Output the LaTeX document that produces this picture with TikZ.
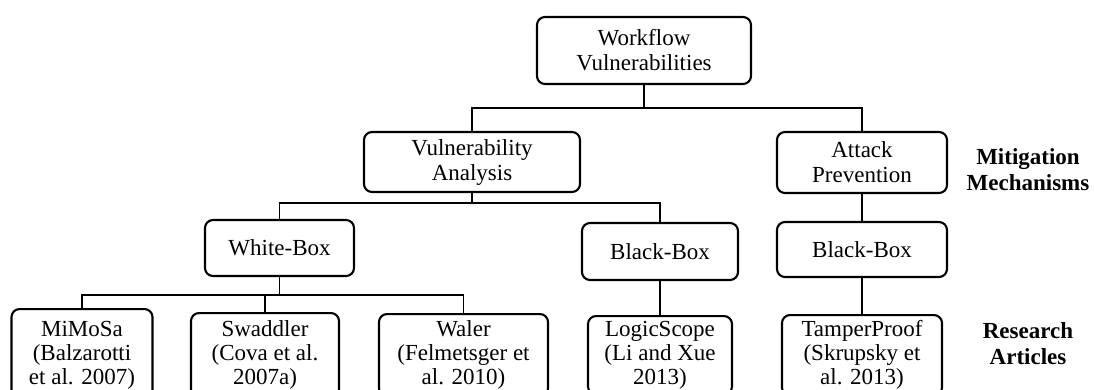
\documentclass[tikz,border=0pt]{standalone}
\usepackage{fontspec}
\setmainfont{Liberation Serif}
\begin{document}
\begin{tikzpicture}[x=1pt,y=-1pt,
  box/.style={draw, line width=2.1pt, rounded corners=8pt, align=center, inner xsep=0pt,
    font=\fontsize{23}{25}\selectfont},
  leaf/.style={draw, line width=2.1pt, rounded corners=8pt, align=center, inner xsep=0pt,
    anchor=north, font=\fontsize{23}{24}\selectfont},
  conn/.style={line width=1.7pt},
  lbl/.style={align=center, font=\fontsize{23}{26}\selectfont\bfseries}]
\useasboundingbox (0,0) rectangle (1094,389);
\clip (0,0) rectangle (1094,389);
\node[box, minimum width=214pt, minimum height=67pt] (W) at (644,50.5) {Workflow\\Vulnerabilities};
\node[box, minimum width=216pt, minimum height=60pt] (VA) at (472,162) {Vulnerability\\Analysis};
\node[box, minimum width=170pt, minimum height=61pt] (AP) at (862,162.5) {Attack\\Prevention};
\node[box, minimum width=149pt, minimum height=56pt] (WB) at (279.5,248) {White-Box};
\node[box, minimum width=156pt, minimum height=57pt] (BB1) at (660,251.5) {Black-Box};
\node[box, minimum width=170pt, minimum height=55pt] (BB2) at (862,249.5) {Black-Box};
\node[leaf, minimum width=141pt, inner ysep=10.2pt] (M) at (82,308) {\strut MiMoSa\\(Balzarotti\\et al. 2007)\strut};
\node[leaf, minimum width=148pt, inner ysep=6.2pt] (S) at (265,312) {\strut Swaddler\\(Cova et al.\\2007a)\strut};
\node[leaf, minimum width=169pt, inner ysep=5.2pt] (Wa) at (463.5,313) {\strut Waler\\(Felmetsger et\\al. 2010)\strut};
\node[leaf, minimum width=144pt, inner ysep=3.2pt] (L) at (660,315) {\strut LogicScope\\(Li and Xue\\2013)\strut};
\node[leaf, minimum width=160pt, inner ysep=4.2pt] (T) at (862,314) {\strut TamperProof\\(Skrupsky et\\al. 2013)\strut};
\node[lbl] (mit) at (1028,170) {Mitigation\\Mechanisms};
\node[lbl] (res) at (1028,344) {Research\\Articles};
\coordinate (j1) at (W.south |- 0,108);
\coordinate (j2) at (VA.south |- 0,203);
\coordinate (j3) at (WB.south |- 0,295);
\draw[conn] (W.south) -- (j1) -| (VA.north);
\draw[conn] (j1) -| (AP.north);
\draw[conn] (VA.south) -- (j2) -| (WB.north);
\draw[conn] (j2) -| (BB1.north);
\draw[conn] (WB.south) -- (j3) -| (M.north);
\draw[conn] (j3) -| (S.north);
\draw[conn] (j3) -| (Wa.north);
\draw[conn] (BB1.south) -- (L.north);
\draw[conn] (AP.south) -- (BB2.north);
\draw[conn] (BB2.south) -- (T.north);
\end{tikzpicture}
\end{document}
